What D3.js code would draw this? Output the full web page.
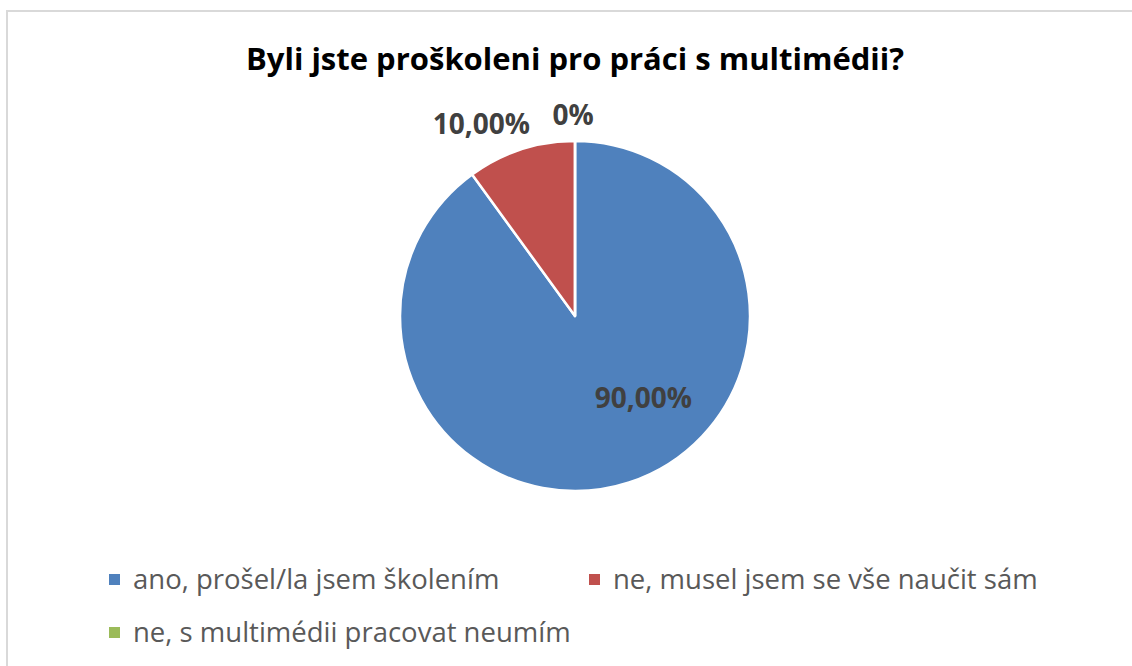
<!DOCTYPE html>
<html>
<head>
<meta charset="utf-8">
<script src="https://cdn.jsdelivr.net/npm/d3@7"></script>
<style>
  body { margin: 0; background: #ffffff; }
  svg text { font-family: "Open Sans", "Noto Sans", sans-serif; }
</style>
</head>
<body>
<div id="chart"></div>
<script>
// chart data
var title = 'Byli jste proškoleni pro práci s multimédii?';
var categories = ['ano, prošel/la jsem školením', 'ne, musel jsem se vše naučit sám', 'ne, s multimédii pracovat neumím'];
var values = [90, 10, 0];
var value_labels = ['90,00%', '10,00%', '0%'];
var colors = ['#4f81bd', '#c0504d', '#9bbb59'];

var width = 1132;
var height = 666;

var cx = 575;
var cy = 316;
var radius = 175;

var svg = d3.select('#chart')
  .append('svg')
    .attr('width', width)
    .attr('height', height);

// chart area border
svg.append('rect')
    .attr('x', 7)
    .attr('y', 11)
    .attr('width', width + 10)
    .attr('height', height + 10)
    .attr('fill', '#ffffff')
    .attr('stroke', '#d9d9d9')
    .attr('stroke-width', 2);

// title
svg.append('text')
    .text(title)
    .attr('x', 575)
    .attr('y', 70)
    .attr('text-anchor', 'middle')
    .attr('font-size', '31px')
    .attr('font-weight', 'bold')
    .attr('fill', '#000000');

var pie = d3.pie().sort(null).value(function(d) { return d; });
var arcs = pie(values);

var arc = d3.arc().innerRadius(0).outerRadius(radius);

var g = svg.append('g')
    .attr('transform', 'translate(' + cx + ',' + cy + ')');

g.selectAll('path.slice')
    .data(arcs)
  .enter()
    .append('path')
    .attr('class', 'slice')
    .attr('d', arc)
    .attr('fill', function(d, i) { return colors[i]; })
    .attr('stroke', '#ffffff')
    .attr('stroke-width', 2.5)
    .attr('stroke-linejoin', 'round');

// data labels: large slice inside, small slices outside (best fit)
g.selectAll('text.label')
    .data(arcs)
  .enter()
    .append('text')
    .attr('class', 'label')
    .text(function(d, i) { return value_labels[i]; })
    .attr('text-anchor', 'middle')
    .attr('font-size', '28px')
    .attr('font-weight', 'bold')
    .attr('fill', '#404040')
    .attr('transform', function(d) {
        var p;
        if (d.endAngle - d.startAngle > Math.PI) {
            var mid = (d.startAngle + d.endAngle) / 2 - 0.38;
            p = [Math.sin(mid) * radius * 0.61, -Math.cos(mid) * radius * 0.61];
        }
        else if (d.endAngle - d.startAngle > 0) {
            var mid2 = (d.startAngle + d.endAngle) / 2 - 0.14;
            p = [Math.sin(mid2) * radius * 1.22, -Math.cos(mid2) * radius * 1.22];
        }
        else {
            p = [Math.sin(d.startAngle) * radius * 1.15 - 2, -Math.cos(d.startAngle) * radius * 1.15];
        }
        return 'translate(' + p[0] + ',' + (p[1] + 10) + ')';
    });

// legend
var legend_x = [109, 589, 109];
var legend_y = [580, 580, 633];

var legend = svg.append('g')
    .selectAll('g.legend')
    .data(categories)
  .enter()
    .append('g')
    .attr('class', 'legend')
    .attr('transform', function(d, i) {
        return 'translate(' + legend_x[i] + ',' + legend_y[i] + ')';
    });

legend.append('rect')
    .attr('x', 0)
    .attr('y', -6)
    .attr('width', 11)
    .attr('height', 11)
    .attr('fill', function(d, i) { return colors[i]; });

legend.append('text')
    .text(function(d) { return d; })
    .attr('x', 24)
    .attr('y', 9)
    .attr('font-size', '27.5px')
    .attr('fill', '#595959');
</script>
</body>
</html>
